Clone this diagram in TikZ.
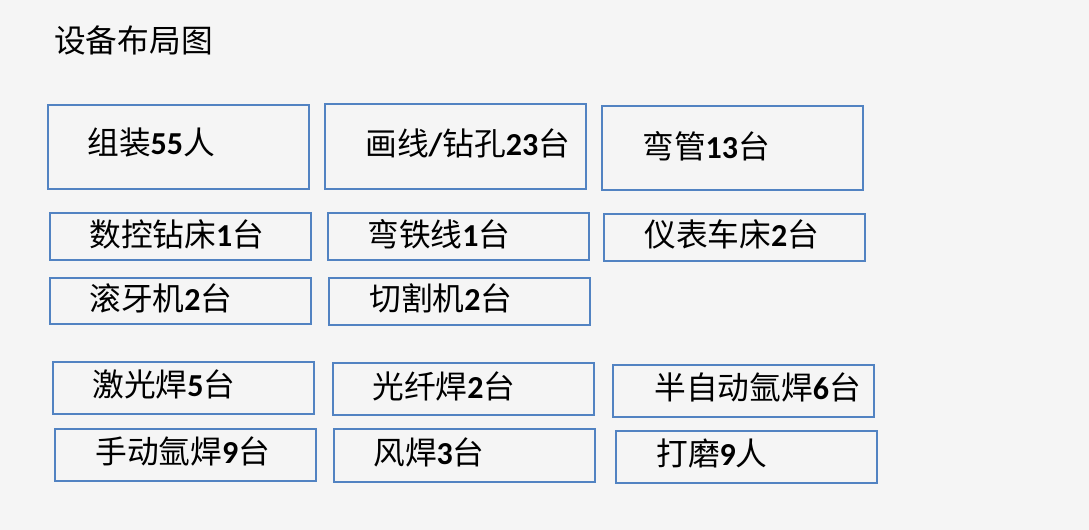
\documentclass[tikz,border=0pt]{standalone}
\usepackage{fontspec}
\setmainfont{Carlito}
\newfontfamily\cjk{Noto Sans CJK SC}
\definecolor{bg}{HTML}{F5F5F5}
\definecolor{bx}{HTML}{5283C2}
\newcommand{\nm}[1]{{\rmfamily\bfseries\fontsize{24}{26}\selectfont #1}}
\begin{document}
\begin{tikzpicture}[x=0.75pt,y=-0.75pt,
  boxr/.style={draw=bx,line width=0.8pt},
  lbl/.style={anchor=west,inner sep=0pt,font=\fontsize{23.8}{26}\selectfont\cjk}]
\fill[bg] (0,0) rectangle (1089,530);
\useasboundingbox (0,0) rectangle (1089,530);
\node[lbl] (title) at (54,40) {设备布局图};
% row 1
\draw[boxr] (48,105) rectangle (309,189);
\node[lbl] (t1) at (87,143) {组装\nm{55}人};
\draw[boxr] (325,104) rectangle (586,189);
\node[lbl] (t2) at (365,143) {画线\nm{/}钻孔\nm{23}台};
\draw[boxr] (602,106) rectangle (863,190);
\node[lbl] (t3) at (642,146) {弯管\nm{13}台};
% row 2
\draw[boxr] (50,213) rectangle (311,260);
\node[lbl] (t4) at (89,234) {数控钻床\nm{1}台};
\draw[boxr] (328,213) rectangle (589,260);
\node[lbl] (t5) at (367,234) {弯铁线\nm{1}台};
\draw[boxr] (604,214) rectangle (865,261);
\node[lbl] (t6) at (644,234) {仪表车床\nm{2}台};
% row 3
\draw[boxr] (50,278) rectangle (311,324);
\node[lbl] (t7) at (89,298) {滚牙机\nm{2}台};
\draw[boxr] (329,278) rectangle (590,325);
\node[lbl] (t8) at (369,298) {切割机\nm{2}台};
% row 4
\draw[boxr] (53,362) rectangle (314,414);
\node[lbl] (t9) at (92,384) {激光焊\nm{5}台};
\draw[boxr] (333,363) rectangle (594,415);
\node[lbl] (t10) at (372,386) {光纤焊\nm{2}台};
\draw[boxr] (613,365) rectangle (874,417);
\node[lbl] (t11) at (654,387) {半自动氩焊\nm{6}台};
% row 5
\draw[boxr] (55,429) rectangle (316,481);
\node[lbl] (t12) at (95,451) {手动氩焊\nm{9}台};
\draw[boxr] (334,429) rectangle (595,482);
\node[lbl] (t13) at (373,452) {风焊\nm{3}台};
\draw[boxr] (616,431) rectangle (877,483);
\node[lbl] (t14) at (656,453) {打磨\nm{9}人};
\end{tikzpicture}
\end{document}
